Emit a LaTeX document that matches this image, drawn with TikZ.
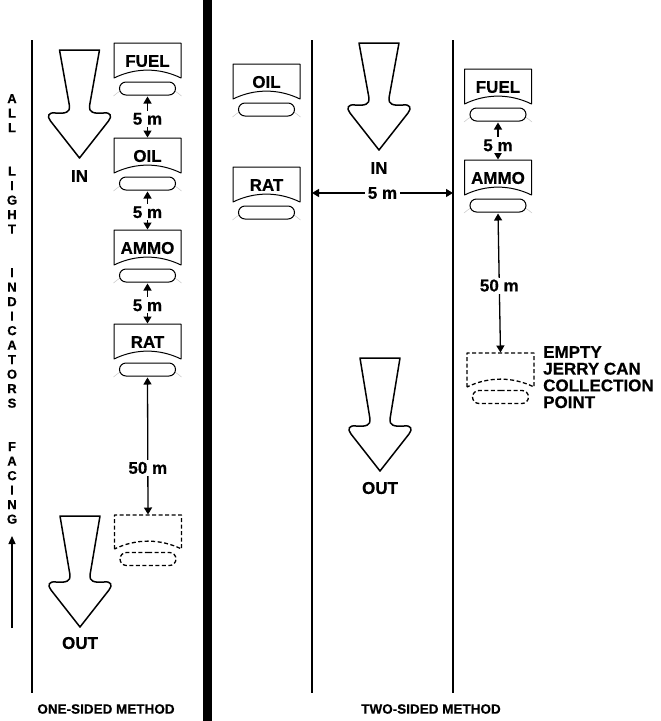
\documentclass[tikz,border=0pt]{standalone}
\usepackage{fontspec}
\setmainfont{Liberation Sans}[BoldFeatures={FakeBold=0.5}]
\usetikzlibrary{arrows.meta,shapes.misc}
\newcommand\mkstation[4]{%
  \draw[faint] (#2-34,#3+35) .. controls (#2-15,#3+18) and (#2+15,#3+18) .. (#2+34,#3+35);
  \coordinate (#1t) at (#2,#3-18);
  \draw[boxline] (#2-33.5,#3+17) -- (#2-33.5,#3-18) -- (#2+33.5,#3-18) -- (#2+33.5,#3+17) .. controls (#2+12,#3+6.5) and (#2-12,#3+6.5) .. cycle;
  \node[lab] (#1) at (#2,#3) {#4};
  \node[ell] (#1e) at (#2,#3+27.5) {};
}
\newcommand\mkdashed[3]{%
  \coordinate (#1t) at (#2,#3-18);
  \draw[boxline,dashline] (#2-33.5,#3+16) -- (#2-33.5,#3-18) -- (#2+33.5,#3-18) -- (#2+33.5,#3+16) .. controls (#2+12,#3+5.5) and (#2-12,#3+5.5) .. cycle;
  \node[ell,dashline] (#1e) at (#2,#3+26) {};
}
\newcommand\bigarr[3]{%
  \draw[bigline] (#1-20,#2) -- (#1-10,#3-52) .. controls (#1-9,#3-46) and (#1-14,#3-44) .. (#1-24,#3-45) .. controls (#1-31,#3-46) and (#1-33,#3-42) .. (#1-29,#3-37) -- (#1,#3) -- (#1+29,#3-37) .. controls (#1+33,#3-42) and (#1+31,#3-46) .. (#1+24,#3-45) .. controls (#1+14,#3-44) and (#1+9,#3-46) .. (#1+10,#3-52) -- (#1+20,#2) -- cycle;
}
\begin{document}
\begin{tikzpicture}[x=1pt,y=-1pt,
  lab/.style={font=\fontsize{17}{17}\selectfont\bfseries, inner sep=0pt},
  blab/.style={font=\fontsize{13.5}{13.5}\selectfont\bfseries, inner sep=0pt},
  vlab/.style={font=\fontsize{13}{14.5}\selectfont\bfseries, align=center, inner sep=0pt},
  boxline/.style={line width=1pt, line join=round},
  dashline/.style={line width=1.3pt, dash pattern=on 4pt off 2.5pt},
  faint/.style={gray!45, line width=0.5pt},
  ell/.style={draw, line width=1pt, rounded rectangle, minimum width=56pt, minimum height=13pt, inner sep=0pt, fill=white},
  dim/.style={line width=1.3pt, {Triangle[width=8pt,length=7pt]}-{Triangle[width=8pt,length=7pt]}, shorten <=1pt, shorten >=0.5pt},
  bigline/.style={line width=1.5pt, line join=round},
  vline/.style={line width=1.5pt},
  lbl/.style={lab, fill=white, inner xsep=3pt, inner ysep=2pt}]
\useasboundingbox (0,0) rectangle (661,721);
% thick divider
\fill (203,0) rectangle (212,721);
% vertical lines
\coordinate (l1a) at (32,40); \coordinate (l1b) at (32,693);
\coordinate (l2a) at (312,40); \coordinate (l2b) at (312,693);
\coordinate (l3a) at (453,40); \coordinate (l3b) at (453,693);
\draw[vline] (l1a) -- (l1b);
\draw[vline] (l2a) -- (l2b);
\draw[vline] (l3a) -- (l3b);
% vertical text
\node[vlab, anchor=north] (vt) at (12,94) {A\\L\\L\\[29pt]L\\I\\G\\H\\T\\[29pt]I\\N\\D\\I\\C\\A\\T\\O\\R\\S\\[29pt]F\\A\\C\\I\\N\\G};
\coordinate (vb) at (12,628); \coordinate (va) at (12,536);
\draw[line width=1.4pt, -{Triangle[width=7pt,length=8pt]}] (vb) -- (va);
% one-sided
\bigarr{79.5}{50}{158}
\node[lab] (in1) at (79.5,176) {IN};
\bigarr{80}{516}{627}
\node[lab] (out1) at (80,643) {OUT};
\mkstation{fuel1}{147.5}{61}{FUEL}
\mkstation{oil1}{147.5}{156}{OIL}
\mkstation{ammo1}{147.5}{248}{AMMO}
\mkstation{rat1}{147.5}{342}{RAT}
\mkdashed{can1}{148}{533}
\draw[dim] (fuel1e.south) -- node[lbl, pos=0.55] (d1) {5 m} (oil1t);
\draw[dim] (oil1e.south) -- node[lbl, pos=0.55] (d2) {5 m} (ammo1t);
\draw[dim] (ammo1e.south) -- node[lbl, pos=0.55] (d3) {5 m} (rat1t);
\draw[dim] (rat1e.south) -- node[lbl, pos=0.66] (d4) {50 m} (can1t);
% two-sided
\mkstation{oil2}{266.5}{82}{OIL}
\mkstation{rat2}{266.5}{185}{RAT}
\bigarr{379}{43}{150}
\node[lab] (in2) at (379,168) {IN};
\bigarr{380}{358}{471}
\node[lab] (out2) at (380,488) {OUT};
\coordinate (mL) at (312,193); \coordinate (mR) at (453,193);
\draw[dim, shorten <=0pt, shorten >=0pt] (mL) -- node[lbl] (d5) {5 m} (mR);
\mkstation{fuel2}{498}{87}{FUEL}
\mkstation{ammo2}{498}{178}{AMMO}
\mkdashed{can2}{500.5}{371}
\draw[dim] (fuel2e.south) -- node[lbl, pos=0.62] (d6) {5 m} (ammo2t);
\draw[dim] (ammo2e.south) -- node[lbl, pos=0.52] (d7) {50 m} (can2t);
\node[lab, anchor=north west, align=left, font=\fontsize{17}{16.7}\selectfont\bfseries] (cantext) at (543,346) {EMPTY\\JERRY CAN\\COLLECTION\\POINT};
% bottom labels
\node[blab] (one) at (106,709) {ONE-SIDED METHOD};
\node[blab] (two) at (431,709) {TWO-SIDED METHOD};
\end{tikzpicture}
\end{document}
